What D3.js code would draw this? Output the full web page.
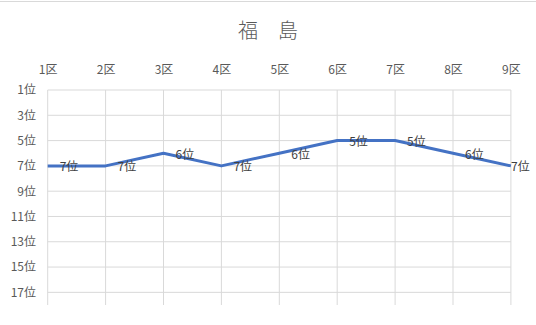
<!DOCTYPE html>
<html>
<head>
<meta charset="utf-8">
<script src="https://cdn.jsdelivr.net/npm/d3@7"></script>
<style>
  body { margin: 0; background: #fff; }
  svg { display: block; font-family: "Noto Sans CJK JP", sans-serif; }
</style>
</head>
<body>
<svg id="chart" width="536" height="325"></svg>
<script>
const title = "福　島";
const districts = ["1区", "2区", "3区", "4区", "5区", "6区", "7区", "8区", "9区"];
const ranks = [7, 7, 6, 7, 6, 5, 5, 6, 7];
const rankTicks = [1, 3, 5, 7, 9, 11, 13, 15, 17];

const width = 536, height = 325;
const svg = d3.select("#chart");

// top border of the chart area
svg.append("line")
  .attr("x1", 0).attr("x2", width)
  .attr("y1", 1.5).attr("y2", 1.5)
  .attr("stroke", "#d9d9d9");

const x = d3.scalePoint().domain(districts).range([47.7, 510.9]);
const y = d3.scaleLinear().domain([1, 18]).range([90, 305]);

// vertical gridlines
svg.append("g")
  .selectAll("line")
  .data(districts)
  .join("line")
  .attr("x1", (d) => x(d)).attr("x2", (d) => x(d))
  .attr("y1", y(1)).attr("y2", y(18))
  .attr("stroke", "#d9d9d9");

// horizontal gridlines
svg.append("g")
  .selectAll("line")
  .data(rankTicks)
  .join("line")
  .attr("x1", x.range()[0]).attr("x2", x.range()[1])
  .attr("y1", (d) => y(d)).attr("y2", (d) => y(d))
  .attr("stroke", "#d9d9d9");

// top axis labels
const xAxis = svg.append("g")
  .attr("transform", "translate(0,74)")
  .call(d3.axisTop(x).tickSize(0).tickPadding(0));
xAxis.select(".domain").remove();
xAxis.selectAll("text")
  .attr("dy", "0")
  .attr("font-size", 12)
  .attr("fill", "#595959")
  .attr("font-family", "Noto Sans CJK JP");

// left axis labels
const yAxis = svg.append("g")
  .attr("transform", "translate(36,0)")
  .call(d3.axisLeft(y).tickValues(rankTicks).tickSize(0).tickPadding(0)
    .tickFormat((d) => d + "位"));
yAxis.select(".domain").remove();
yAxis.selectAll("text")
  .attr("font-size", 12)
  .attr("fill", "#595959")
  .attr("font-family", "Noto Sans CJK JP");

// title
svg.append("text")
  .attr("x", 268).attr("y", 29)
  .attr("text-anchor", "middle")
  .attr("dominant-baseline", "central")
  .attr("font-size", 20)
  .attr("font-weight", 300)
  .attr("fill", "#595959")
  .text(title);

// line
const line = d3.line()
  .x((d, i) => x(districts[i]))
  .y((d) => y(d));

svg.append("path")
  .datum(ranks)
  .attr("d", line)
  .attr("fill", "none")
  .attr("stroke", "#4472C4")
  .attr("stroke-width", 3)
  .attr("stroke-linejoin", "round");

// data labels to the right of each point
svg.append("g")
  .selectAll("text")
  .data(ranks)
  .join("text")
  .attr("x", (d, i) => Math.min(x(districts[i]) + 12, width - 25))
  .attr("y", (d) => y(d))
  .attr("dominant-baseline", "central")
  .attr("font-size", 12)
  .attr("fill", "#404040")
  .text((d) => d + "位");
</script>
</body>
</html>
